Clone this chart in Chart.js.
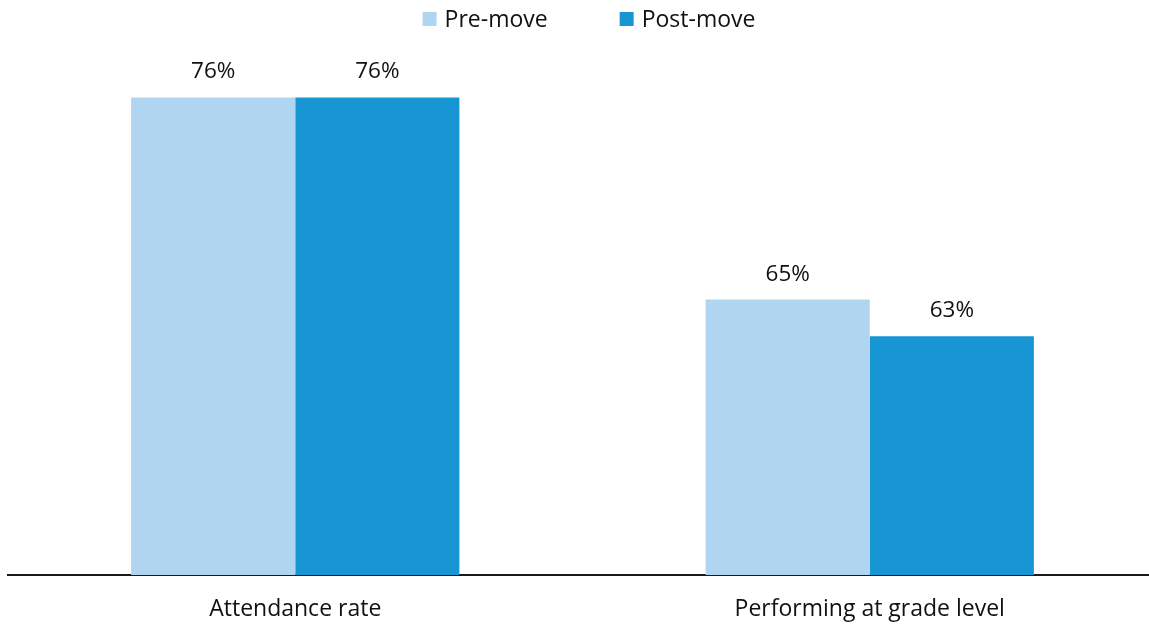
<!DOCTYPE html>
<html>
<head>
<meta charset="utf-8">
<script src="https://cdn.jsdelivr.net/npm/chart.js@4.4.1/dist/chart.umd.min.js"></script>
<style>
  html, body { margin: 0; padding: 0; background: #ffffff; overflow: hidden; }
  #wrap { position: relative; width: 1157px; height: 624px; }
</style>
</head>
<body>
<div id="wrap"><canvas id="chart"></canvas></div>
<script>
// Categories and series values (percent)
const categories = ['Attendance rate', 'Performing at grade level'];
const seriesNames = ['Pre-move', 'Post-move'];
const preMove = [76, 65];
const postMove = [76, 63];
const seriesColors = ['#B0D5F0', '#1896D4'];

const FONT = '"Open Sans", "Liberation Sans", sans-serif';

// Value labels above each bar
const valueLabels = {
  id: 'valueLabels',
  afterDatasetsDraw(chart) {
    const ctx = chart.ctx;
    ctx.save();
    ctx.font = '22.5px ' + FONT;
    ctx.fillStyle = '#111111';
    ctx.textAlign = 'center';
    ctx.textBaseline = 'alphabetic';
    chart.data.datasets.forEach((ds, i) => {
      const meta = chart.getDatasetMeta(i);
      meta.data.forEach((bar, j) => {
        ctx.fillText(ds.data[j] + '%', bar.x, bar.y - 19);
      });
    });
    ctx.restore();
  }
};

// Legend row across the top
const topLegend = {
  id: 'topLegend',
  afterDraw(chart) {
    const ctx = chart.ctx;
    ctx.save();
    ctx.font = '23px ' + FONT;
    const box = 14, boxGap = 8, itemGap = 72;
    const items = chart.data.datasets.map(ds => ({
      label: ds.label, color: ds.backgroundColor,
      w: box + boxGap + ctx.measureText(ds.label).width
    }));
    const total = items.reduce((s, it) => s + it.w, 0) + itemGap * (items.length - 1);
    let x = 589 - total / 2;
    items.forEach(it => {
      ctx.fillStyle = it.color;
      ctx.fillRect(x, 12, box, box);
      ctx.fillStyle = '#111111';
      ctx.textAlign = 'left';
      ctx.textBaseline = 'alphabetic';
      ctx.fillText(it.label, x + box + boxGap, 27);
      x += it.w + itemGap;
    });
    ctx.restore();
  }
};

new Chart(document.getElementById('chart'), {
  type: 'bar',
  data: {
    labels: categories,
    datasets: [
      { label: seriesNames[0], data: preMove, backgroundColor: seriesColors[0] },
      { label: seriesNames[1], data: postMove, backgroundColor: seriesColors[1] }
    ]
  },
  options: {
    responsive: true,
    maintainAspectRatio: false,
    animation: false,
    categoryPercentage: 0.5714,
    barPercentage: 1.0,
    layout: { padding: { top: 24, left: 8, right: 0, bottom: 0 } },
    plugins: {
      legend: { display: false },
      tooltip: { enabled: false }
    },
    scales: {
      x: {
        grid: { display: false, drawTicks: false },
        border: { display: true, color: '#1a1a1a', width: 2 },
        ticks: { color: '#111111', padding: 21, font: { family: FONT, size: 23 } },
        afterFit(scale) { scale.height = 49; }
      },
      y: {
        display: false,
        min: 50,
        max: 80
      }
    }
  },
  plugins: [valueLabels, topLegend]
});
</script>
</body>
</html>
